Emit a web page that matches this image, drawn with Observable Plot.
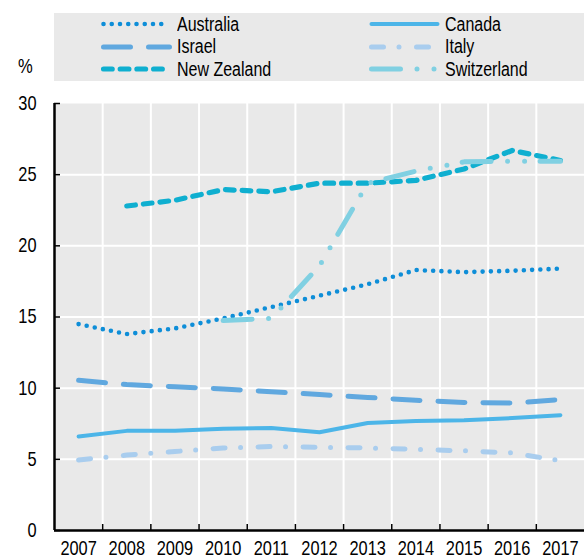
<!DOCTYPE html>
<html>
<head>
<meta charset="utf-8">
<script src="https://cdn.jsdelivr.net/npm/d3@7"></script>
<script src="https://cdn.jsdelivr.net/npm/@observablehq/plot@0.6"></script>
<style>
  html, body { margin: 0; padding: 0; background: #fff; }
  body { width: 584px; height: 558px; position: relative; overflow: hidden;
         font-family: "Liberation Sans", Arial, sans-serif; }
  #legend { position: absolute; left: 54px; top: 13px; width: 530px; height: 68px; background: #e9e9e9; }
  .item { position: absolute; height: 22px; display: flex; align-items: center; font-size: 19.5px; color: #000; white-space: nowrap; }
  .item svg { display: block; margin-right: 4px; flex: none; }
  .item span { display: inline-block; transform: scaleX(0.82); transform-origin: left center; }
  #unit { position: absolute; left: 18px; top: 55px; font-size: 19.5px; transform: scaleX(0.85); transform-origin: left center; }
  #chart { position: absolute; left: 0; top: 85px; }
</style>
</head>
<body>
<div id="legend"></div>
<div id="unit">%</div>
<div id="chart"></div>
<script>
// ---- data ----
const years = [2007, 2008, 2009, 2010, 2011, 2012, 2013, 2014, 2015, 2016, 2017];
const australia   = [14.5, 13.8, 14.2, 14.9, 15.7, 16.5, 17.3, 18.3, 18.15, 18.25, 18.4];
const canada      = [6.6, 7.0, 7.0, 7.15, 7.2, 6.9, 7.55, 7.7, 7.75, 7.9, 8.1];
const israel      = [10.55, 10.25, 10.1, 9.95, 9.75, 9.55, 9.35, 9.15, 9.0, 8.95, 9.2];
const italy       = [4.95, 5.3, 5.55, 5.8, 5.9, 5.85, 5.8, 5.7, 5.6, 5.45, 4.9];
const newZealand  = [null, 22.8, 23.2, 23.95, 23.8, 24.4, 24.4, 24.6, 25.4, 26.7, 26.0];
const switzerland = [null, null, null, 14.75, 14.9, 18.6, 24.4, 25.25, 25.9, 25.95, 25.95];
const yTicks = [0, 5, 10, 15, 20, 25, 30];

// ---- series styles ----
const series = [
  {name: "Australia",   values: australia,   color: "#0e8ed8", dash: "0 8.25",           width: 4.6},
  {name: "Canada",      values: canada,      color: "#4cb5e8", dash: null,               width: 4},
  {name: "Israel",      values: israel,      color: "#60a8df", dash: "27 18",            width: 5},
  {name: "Italy",       values: italy,       color: "#a9cdee", dash: "12 15.5 0 17.5",   width: 5},
  {name: "New Zealand", values: newZealand,  color: "#0fafd0", dash: "8.7 8",            width: 5.2},
  {name: "Switzerland", values: switzerland, color: "#80d0e2", dash: "29 16.5 0 17 0 15.5", width: 5}
];

// ---- legend ----
const legendOrder = ["Australia", "Canada", "Israel", "Italy", "New Zealand", "Switzerland"];
const legend = document.getElementById("legend");
legendOrder.forEach((name, i) => {
  const s = series.find(d => d.name === name);
  const col = i % 2, row = Math.floor(i / 2);
  const div = document.createElement("div");
  div.className = "item";
  div.style.left = (col === 0 ? 47 : 315) + "px";
  div.style.top = (row * 22.5) + "px";
  div.innerHTML = `<svg width="72" height="10"><line x1="2.5" x2="68.5" y1="5" y2="5" stroke="${s.color}" stroke-width="${s.width}" stroke-linecap="round" ${s.dash ? `stroke-dasharray="${s.dash}"` : ""}/></svg><span>${name}</span>`;
  legend.appendChild(div);
});

// ---- chart ----
const bounds = years.slice(0, -1).map(y => y + 0.5);
const xDomain = [years[0] - 0.5, years[years.length - 1] + 0.5];
const marks = [
  Plot.frame({fill: "#e9e9e9", stroke: null}),
  Plot.gridY(yTicks.slice(1, -1), {stroke: "#fff", strokeOpacity: 1, strokeWidth: 2}),
  Plot.gridX(bounds, {stroke: "#fff", strokeOpacity: 1, strokeWidth: 2}),
];
series.forEach(s => {
  const data = years.map((y, i) => ({year: y, value: s.values[i]})).filter(d => d.value != null);
  marks.push(Plot.line(data, {
    x: "year", y: "value", stroke: s.color, strokeWidth: s.width,
    strokeDasharray: s.dash || undefined, strokeLinecap: "round", strokeLinejoin: "round"
  }));
});
marks.push(
  Plot.axisY(yTicks, {tickSize: 0, tickPadding: 18, fontSize: 20}),
  Plot.axisY(yTicks, {tickSize: -6, tickFormat: () => "", stroke: "#000", strokeWidth: 1.5}),
  Plot.axisX(years, {tickSize: 0, tickPadding: 10, tickFormat: d => String(d), fontSize: 20}),
  Plot.axisX(bounds, {tickSize: -6, tickFormat: () => "", stroke: "#000", strokeWidth: 1.5}),
  Plot.ruleX([xDomain[0]], {stroke: "#000", strokeWidth: 2.5}),
  Plot.ruleY([yTicks[0]], {stroke: "#000", strokeWidth: 2.5})
);

const chart = Plot.plot({
  width: 584,
  height: 473,
  marginLeft: 54,
  marginRight: 0,
  marginTop: 18,
  marginBottom: 28,
  x: {domain: xDomain, label: null},
  y: {domain: [yTicks[0], yTicks[yTicks.length - 1]], label: null},
  style: {fontFamily: '"Liberation Sans", Arial, sans-serif', fontSize: "20px", color: "#000", background: "transparent"},
  marks
});
document.getElementById("chart").appendChild(chart);

// condense tick label glyphs (narrow typeface look) around each label's anchor
chart.querySelectorAll("text").forEach(t => {
  if (!t.textContent) return;
  const b = t.getBBox();
  if (!b.width) return;
  const anchor = getComputedStyle(t).textAnchor || t.getAttribute("text-anchor") ||
                 (t.parentNode && t.parentNode.getAttribute("text-anchor"));
  let ax = b.x + b.width / 2;
  if (anchor === "end") ax = b.x + b.width;
  else if (anchor === "start") ax = b.x;
  const prev = t.getAttribute("transform") || "";
  t.setAttribute("transform", `${prev} translate(${ax},0) scale(0.82,1) translate(${-ax},0)`);
});
</script>
</body>
</html>
